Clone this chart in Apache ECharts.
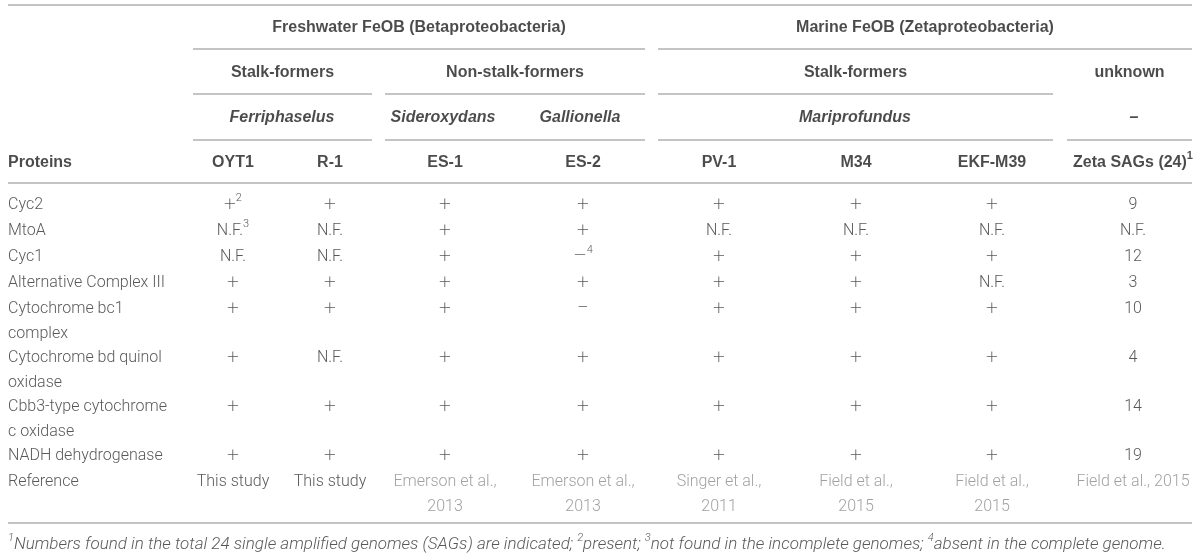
<!DOCTYPE html>
<html>
<head>
<meta charset="utf-8">
<script src="https://cdn.jsdelivr.net/npm/echarts@6/dist/echarts.min.js"></script>
<style>
  html, body { margin: 0; padding: 0; background: #fff; }
  #table { width: 1200px; height: 558px; }
</style>
</head>
<body>
<div id="table"></div>
<script>
// Table contents ("^n" marks a footnote superscript)
const GROUPS = ['Freshwater FeOB (Betaproteobacteria)', 'Marine FeOB (Zetaproteobacteria)'];
const LIFESTYLES = ['Stalk-formers', 'Non-stalk-formers', 'Stalk-formers', 'unknown'];
const GENERA = ['Ferriphaselus', 'Sideroxydans', 'Gallionella', 'Mariprofundus', '–'];
const STRAINS = ['OYT1', 'R-1', 'ES-1', 'ES-2', 'PV-1', 'M34', 'EKF-M39', 'Zeta SAGs (24)^1'];
const PROTEINS = [
  'Cyc2', 'MtoA', 'Cyc1', 'Alternative Complex III', 'Cytochrome bc1\ncomplex',
  'Cytochrome bd quinol\noxidase', 'Cbb3-type cytochrome\nc oxidase', 'NADH dehydrogenase'
];
// one array per strain column, in PROTEINS order
const OYT1 = ['+^2', 'N.F.^3', 'N.F.', '+', '+', '+', '+', '+'];
const R1 = ['+', 'N.F.', 'N.F.', '+', '+', 'N.F.', '+', '+'];
const ES1 = ['+', '+', '+', '+', '+', '+', '+', '+'];
const ES2 = ['+', '+', '–^4', '+', '−', '+', '+', '+'];
const PV1 = ['+', 'N.F.', '+', '+', '+', '+', '+', '+'];
const M34 = ['+', 'N.F.', '+', '+', '+', '+', '+', '+'];
const EKF_M39 = ['+', 'N.F.', '+', 'N.F.', '+', '+', '+', '+'];
const ZETA_SAGS = ['9', 'N.F.', '12', '3', '10', '4', '14', '19'];
const REFERENCES = ['This study', 'This study', 'Emerson et al.,\n2013', 'Emerson et al.,\n2013',
  'Singer et al.,\n2011', 'Field et al.,\n2015', 'Field et al.,\n2015', 'Field et al., 2015'];
const FOOTNOTE = '^1Numbers found in the total 24 single amplified genomes (SAGs) are indicated; ' +
  '^2present; ^3not found in the incomplete genomes; ^4absent in the complete genome.';

// Layout (pixel-like units on hidden 1200 x 558 axes)
const COL_X = [233, 330, 445, 583, 719, 856, 992, 1133];
const GROUP_SPANS = [[193, 645], [658, 1192]];
const LIFESTYLE_SPANS = [[193, 372], [385, 645], [658, 1053], [1067, 1192]];
const GENUS_X = [282, 443, 580, 855, 1134];
const HEAD_Y = [28, 73, 118, 163];
const ROW_Y = [205, 231, 257, 283, 309, 358, 407, 456];
const REF_Y = 482;
const FOOT_Y = 545;
const LINE_H = 25;
const RULES = [
  { y: 5, spans: [[8, 1192]] },
  { y: 49, spans: GROUP_SPANS },
  { y: 94, spans: LIFESTYLE_SPANS.slice(0, 3) },
  { y: 140, spans: [[193, 372], [385, 645], [658, 1053], [1067, 1192]] },
  { y: 183, spans: [[8, 1192]] },
  { y: 523, spans: [[8, 1192]] }
];

const COLUMNS = [OYT1, R1, ES1, ES2, PV1, M34, EKF_M39, ZETA_SAGS];
const BOLD = '"Liberation Sans", Arial, sans-serif';
const LIGHT = 'Roboto, "Liberation Sans", sans-serif';

// "+^2" -> "{sym|+}{sup|2}"
const rich = s => s.replace(/^([+−–])/, '{sym|$1}').replace(/\^(\d)/g, '{sup|$1}');
const mid = span => (span[0] + span[1]) / 2;
const cell = (x, y, text) => [x, y - LINE_H / 2, text];

// sign glyphs (+, −, –) are drawn bigger and thinner in the body cells only
const THIN_SIGN = { fontSize: 21, fontWeight: 200 };

function textSeries(name, data, font, extra, sign) {
  return {
    name: name,
    type: 'scatter',
    symbolSize: 1,
    itemStyle: { color: 'rgba(0,0,0,0)' },
    silent: true,
    data: data,
    label: Object.assign({
      show: true,
      position: 'inside',
      align: 'center',
      verticalAlign: 'top',
      lineHeight: LINE_H,
      formatter: p => rich(p.data[2]),
      rich: {
        sup: { fontSize: 11, lineHeight: 13, verticalAlign: 'top', fontFamily: font.fontFamily, fontWeight: font.fontWeight, color: font.color },
        sym: Object.assign({ lineHeight: LINE_H }, font, sign || {})
      }
    }, font, extra || {})
  };
}

const headerCells = [];
GROUPS.forEach((g, i) => headerCells.push(cell(mid(GROUP_SPANS[i]), HEAD_Y[0], g)));
LIFESTYLES.forEach((g, i) => headerCells.push(cell(mid(LIFESTYLE_SPANS[i]), HEAD_Y[1], g)));
STRAINS.forEach((s, i) => headerCells.push(cell(COL_X[i], HEAD_Y[3], s)));

const genusCells = GENERA.map((g, i) => cell(GENUS_X[i], HEAD_Y[2], g));

const bodyCells = [];
COLUMNS.forEach((col, c) => col.forEach((v, r) => bodyCells.push(cell(COL_X[c], ROW_Y[r], v))));
REFERENCES.forEach((v, c) => { if (c < 2) bodyCells.push(cell(COL_X[c], REF_Y, v)); });

const refCells = REFERENCES.map((v, c) => cell(COL_X[c], REF_Y, v)).filter((d, c) => c >= 2);

const leftCells = PROTEINS.map((p, r) => cell(8, ROW_Y[r], p));
leftCells.push(cell(8, REF_Y, 'Reference'));

const ruleLines = [];
RULES.forEach(rule => rule.spans.forEach(sp => ruleLines.push([
  { coord: [sp[0], rule.y] }, { coord: [sp[1], rule.y] }
])));

const HEAD_FONT = { fontFamily: BOLD, fontWeight: 'bold', fontSize: 16, color: '#1e1e1e' };
const BODY_FONT = { fontFamily: LIGHT, fontWeight: 300, fontSize: 16, color: '#2e2e2e' };

const chart = echarts.init(document.getElementById('table'));
chart.setOption({
  animation: false,
  backgroundColor: '#fff',
  grid: { left: 0, right: 0, top: 0, bottom: 0 },
  xAxis: { type: 'value', min: 0, max: 1200, show: false },
  yAxis: { type: 'value', min: 0, max: 558, inverse: true, show: false },
  series: [
    Object.assign(textSeries('headers', headerCells, HEAD_FONT), {
      markLine: {
        silent: true,
        symbol: ['none', 'none'],
        label: { show: false },
        lineStyle: { type: 'solid', color: '#c4c4c4', width: 2 },
        data: ruleLines
      }
    }),
    textSeries('proteinsHead', [cell(8, HEAD_Y[3], 'Proteins')], HEAD_FONT, { align: 'left' }),
    textSeries('genera', genusCells, Object.assign({}, HEAD_FONT, { fontStyle: 'italic' })),
    textSeries('proteins', leftCells, BODY_FONT, { align: 'left' }),
    textSeries('cells', bodyCells, BODY_FONT, null, THIN_SIGN),
    textSeries('references', refCells, Object.assign({}, BODY_FONT, { color: '#8a8a8a' })),
    textSeries('footnote', [cell(8, FOOT_Y, FOOTNOTE)],
      Object.assign({}, BODY_FONT, { fontStyle: 'italic', fontSize: 17 }), { align: 'left' })
  ]
});
</script>
</body>
</html>
